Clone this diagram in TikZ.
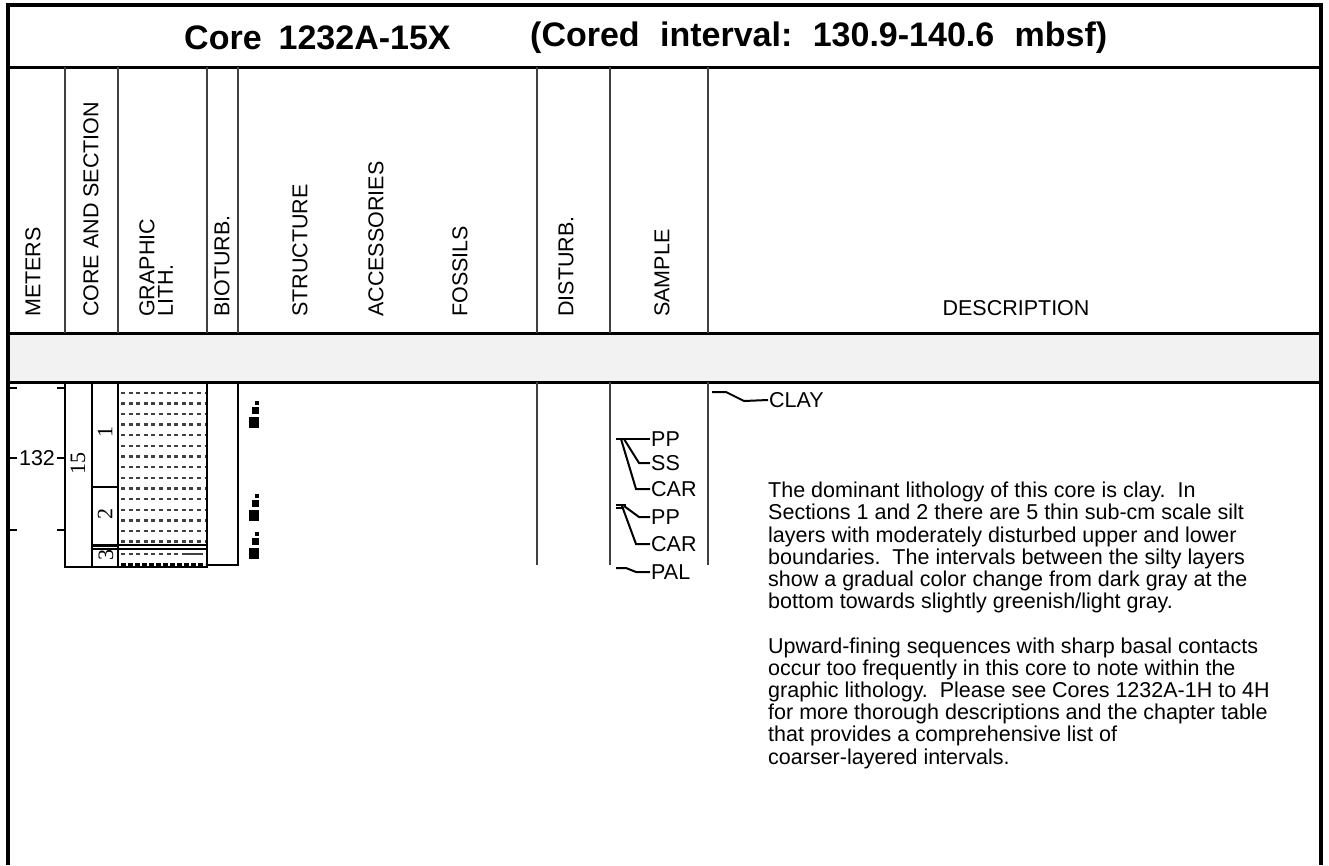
\documentclass[tikz,border=0pt]{standalone}
\usepackage{fontspec}
\setmainfont{Liberation Sans}
\newfontfamily\csdserif{Liberation Serif}
\usepackage{tikz}
\usetikzlibrary{positioning}
\newcommand{\csdfont}{\fontsize{21.5}{22.2}\selectfont}
\newcommand{\csdtitlefont}{\fontsize{34}{40}\selectfont\bfseries}
\tikzset{
  csdframe/.style={line width=4.5pt},
  csdrule/.style={line width=3pt},
  csdcol/.style={line width=1.4pt, black!75},
  csdbox/.style={line width=1.2pt},
  csdhead/.style={rotate=90, anchor=west, inner sep=0pt, font=\csdfont},
  csdnum/.style={rotate=90, inner sep=0pt, font=\csdserif\fontsize{22}{22}\selectfont},
  csdlabel/.style={anchor=west, inner sep=1pt, font=\csdfont},
  csdlead/.style={line width=2pt},
  csdlith/.style={line width=2.4pt, black!75, dash pattern=on 4pt off 3.6pt},
  csdtick/.style={line width=1.4pt}
}

\begin{document}
\begin{tikzpicture}[x=1pt, y=-1pt]
\useasboundingbox (0,0) rectangle (1329,865);
\fill[black!5] (8,333) rectangle (1321,382);
\draw[csdframe] (8,865) -- (8,5) -- (1321,5) -- (1321,865);
\draw[csdrule] (8,67) -- (1321,67);
\draw[csdrule] (8,333) -- (1321,333);
\draw[csdrule] (8,382) -- (1321,382);

\node[anchor=west, inner sep=0pt, font=\csdtitlefont] (ttlcore) at (184,38) {Core\hspace{.5em}1232A-15X};
\node[anchor=west, inner sep=0pt, font=\csdtitlefont] (ttlint) at (530,38) {(Cored\hspace{.6em}interval:\hspace{.6em}130.9-140.6\hspace{.6em}mbsf)};

\foreach \x in {65,118,207,238,537,610,708} \draw[csdcol] (\x,67) -- (\x,333);
\node[csdhead] (hmeters) at (33,317) {METERS};
\node[csdhead] (hcore) at (91,317) {CORE AND SECTION};
\node[csdhead, align=left, font=\fontsize{21.5}{18.5}\selectfont] (hlith) at (156,317) {GRAPHIC\\LITH.};
\node[csdhead] (hbiot) at (222,317) {BIOTURB.};
\node[csdhead] (hstruct) at (300,317) {STRUCTURE};
\node[csdhead] (hacc) at (376,317) {ACCESSORIES};
\node[csdhead] (hfoss) at (460,317) {FOSSILS};
\node[csdhead] (hdist) at (566,317) {DISTURB.};
\node[csdhead] (hsample) at (662,317) {SAMPLE};
\node[inner sep=0pt, font=\csdfont] (hdesc) at (1016,308) {DESCRIPTION};

\foreach \y in {388,458,530} {
  \draw[csdtick] (10,\y) -- (17,\y);
  \draw[csdtick] (57,\y) -- (65,\y);
}
\node[inner sep=0pt, font=\csdfont] (m132) at (37,458) {132};

\draw[csdbox] (65,382) rectangle (92,567);
\draw[csdbox] (92,382) rectangle (118,567);
\draw[line width=2pt] (92,487) -- (118,487);
\draw[line width=3pt] (92,545) -- (118,545);
\draw[csdbox] (118,545) -- (207,545);
\draw[csdbox] (92,549) -- (207,549);
\node[csdnum] (core15) at (78,463) {15};
\node[csdnum] (sec1) at (105,432) {1};
\node[csdnum] (sec2) at (105,514) {2};
\begin{scope}
  \clip (92,550) rectangle (118,567);
  \node[csdnum] (sec3) at (106,555) {3};
\end{scope}

\draw[csdbox] (118,382) rectangle (207,567);
\foreach \r in {0,...,14}
  \draw[csdlith] (121,392.7+10.64*\r) -- (205,392.7+10.64*\r);
\draw[csdlith] (121,554) -- (178,554);
\draw[line width=2.4pt, black!75] (182,554) -- (203,554);
\draw[csdlith, black, dash pattern=on 5pt off 2pt] (121,564.5) -- (205,564.5);

\draw[csdbox] (207,565) -- (238,565) -- (238,382);

\foreach \t in {401,494,532} {
  \fill (255,\t) rectangle ++(4,4);
  \fill (252,\t+6) rectangle ++(7,7);
  \fill (249,\t+16) rectangle ++(10,11);
}

\foreach \x in {537,610,708} \draw[csdcol] (\x,382) -- (\x,565);

\node[csdlabel] (spp1) at (650,439) {PP};
\node[csdlabel] (sss) at (650,463) {SS};
\node[csdlabel] (scar1) at (650,489) {CAR};
\node[csdlabel] (spp2) at (650,517) {PP};
\node[csdlabel] (scar2) at (650,544) {CAR};
\node[csdlabel] (spal) at (650,572) {PAL};
\draw[csdlead] (616,439) -- (spp1.west);
\draw[csdlead] (624,439) -- (639,463) -- (sss.west);
\draw[csdlead] (621,439) -- (636,489) -- (scar1.west);
\draw[csdlead] (616,504.5) -- (626,504.5) (616,507.5) -- (624,507.5);
\draw[csdlead] (624,506) -- (639,517) -- (spp2.west);
\draw[csdlead] (622,506) -- (636,544) -- (scar2.west);
\draw[csdlead] (616,568) -- (626,568) -- (636,572) -- (spal.west);

\node[csdlabel] (dclay) at (768,400) {CLAY};
\draw[csdlead] (712,392) -- (726,392) -- (744,401) -- (dclay.west);
\node[anchor=north west, inner sep=0pt, align=left, font=\csdfont] (ddesc) at (768,482) {The dominant lithology of this core is clay.\ \ In\\
Sections 1 and 2 there are 5 thin sub-cm scale silt\\
layers with moderately disturbed upper and lower\\
boundaries.\ \ The intervals between the silty layers\\
show a gradual color change from dark gray at the\\
bottom towards slightly greenish/light gray.\\[22.2pt]
Upward-fining sequences with sharp basal contacts\\
occur too frequently in this core to note within the\\
graphic lithology.\ \ Please see Cores 1232A-1H to 4H\\
for more thorough descriptions and the chapter table\\
that provides a comprehensive list of\\
coarser-layered intervals.};
\end{tikzpicture}
\end{document}
